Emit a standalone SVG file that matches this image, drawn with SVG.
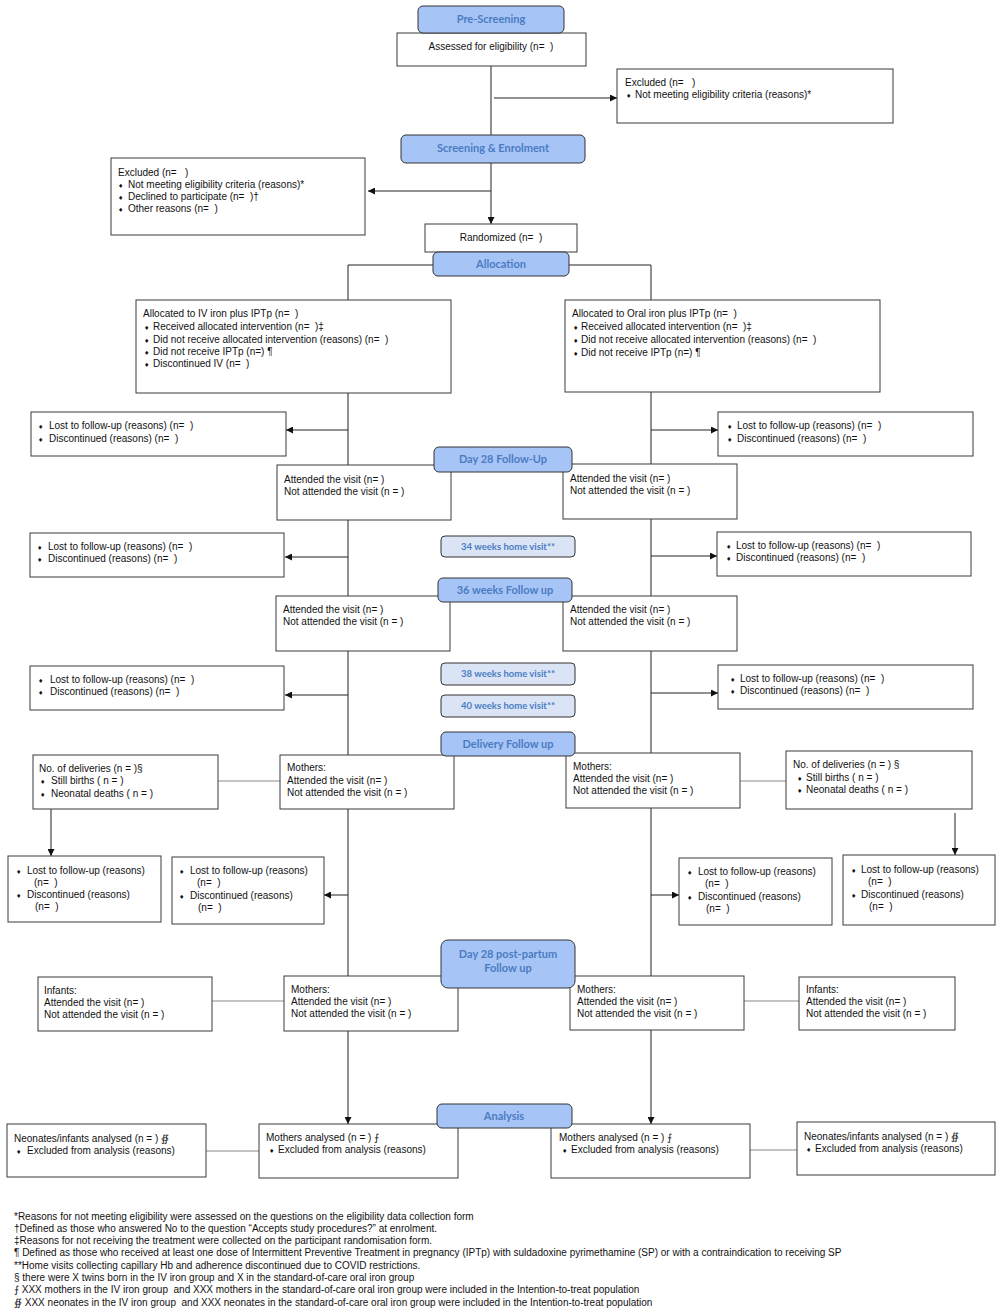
<svg xmlns="http://www.w3.org/2000/svg" width="1000" height="1313" viewBox="0 0 1000 1313">
<style>
text{white-space:pre}
.box{fill:#fff;stroke:#3a3a3a;stroke-width:1}
.hdr{fill:#a7c4f6;stroke:#333;stroke-width:1}
.hv{fill:#dae4f5;stroke:#333;stroke-width:1}
.ht{font-family:Lato,"Open Sans",sans-serif;font-weight:bold;font-size:11px;fill:#4a7cc3;text-anchor:middle}
.hvt{font-family:Lato,"Open Sans",sans-serif;font-weight:bold;font-size:9.5px;fill:#4a7cc3;text-anchor:middle}
.t{font-family:"Liberation Sans",Arial,sans-serif;font-size:10px;fill:#111}
.b{font-family:"DejaVu Sans",sans-serif;font-size:6px;fill:#111}
.fn{font-family:"Liberation Sans",Arial,sans-serif;font-size:10px;fill:#111}
.ln{fill:none;stroke:#222;stroke-width:1}
.gl{fill:none;stroke:#888;stroke-width:1}
</style>
<defs>
<marker id="ar" viewBox="0 0 8 8" refX="8" refY="4" markerWidth="7" markerHeight="7" orient="auto" markerUnits="userSpaceOnUse">
<path d="M0,0 L8,4 L0,8 z" fill="#111"/>
</marker>
</defs>
<rect width="1000" height="1313" fill="#fff"/>

<g id="connectors">
<line class="ln" x1="491" y1="66" x2="491" y2="135"/>
<line class="ln" x1="494" y1="98" x2="617" y2="98" marker-end="url(#ar)"/>
<line class="ln" x1="491" y1="163" x2="491" y2="224" marker-end="url(#ar)"/>
<line class="ln" x1="491" y1="191" x2="368" y2="191" marker-end="url(#ar)"/>
<polyline class="ln" points="433,265 348,265 348,300"/>
<polyline class="ln" points="569,265 651,265 651,300"/>
<line class="ln" x1="348" y1="393" x2="348" y2="1124" marker-end="url(#ar)"/>
<line class="ln" x1="651" y1="392" x2="651" y2="1124" marker-end="url(#ar)"/>
<line class="ln" x1="348" y1="430" x2="286" y2="430" marker-end="url(#ar)"/>
<line class="ln" x1="651" y1="430" x2="718" y2="430" marker-end="url(#ar)"/>
<line class="ln" x1="348" y1="557" x2="285" y2="557" marker-end="url(#ar)"/>
<line class="ln" x1="651" y1="556" x2="717" y2="556" marker-end="url(#ar)"/>
<line class="ln" x1="348" y1="695" x2="285" y2="695" marker-end="url(#ar)"/>
<line class="ln" x1="651" y1="693" x2="718" y2="693" marker-end="url(#ar)"/>
<line class="gl" x1="218" y1="781" x2="280" y2="781"/>
<line class="gl" x1="740" y1="781" x2="786" y2="781"/>
<line class="ln" x1="51" y1="809" x2="51" y2="856" marker-end="url(#ar)"/>
<line class="ln" x1="955" y1="813" x2="955" y2="855" marker-end="url(#ar)"/>
<line class="ln" x1="348" y1="895" x2="324" y2="895" marker-end="url(#ar)"/>
<line class="ln" x1="651" y1="895" x2="679" y2="895" marker-end="url(#ar)"/>
<line class="gl" x1="212" y1="1001" x2="284" y2="1001"/>
<line class="gl" x1="744" y1="1001" x2="799" y2="1001"/>
<line class="gl" x1="206" y1="1151" x2="259" y2="1151"/>
<line class="gl" x1="750" y1="1150" x2="797" y2="1150"/>
</g>

<g id="assessed"><rect class="box" x="397" y="33" width="189" height="33"/>
<text class="t" x="491" y="50" text-anchor="middle">Assessed for eligibility (n=  )</text></g>
<g id="pre-screening"><rect class="hdr" x="418" y="6" width="146" height="27" rx="5"/>
<text class="ht" x="491" y="23">Pre-Screening</text></g>

<g id="excluded-pre"><rect class="box" x="617" y="69" width="276" height="54"/>
<text class="t" x="625" y="86">Excluded (n=   )</text>
<text class="b" x="626" y="98">♦</text><text class="t" x="635" y="98">Not meeting eligibility criteria (reasons)*</text></g>

<g id="screening"><rect class="hdr" x="401" y="135" width="184" height="28" rx="5"/>
<text class="ht" x="493" y="152">Screening &amp; Enrolment</text></g>

<g id="excluded-screen"><rect class="box" x="111" y="158" width="254" height="77"/>
<text class="t" x="118" y="176">Excluded (n=   )</text>
<text class="b" x="118" y="188">♦</text><text class="t" x="128" y="188">Not meeting eligibility criteria (reasons)*</text>
<text class="b" x="118" y="200">♦</text><text class="t" x="128" y="200">Declined to participate (n=  )†</text>
<text class="b" x="118" y="212">♦</text><text class="t" x="128" y="212">Other reasons (n=  )</text></g>

<g id="randomized"><rect class="box" x="425" y="224" width="152" height="28"/>
<text class="t" x="501" y="241" text-anchor="middle">Randomized (n=  )</text></g>
<g id="allocation"><rect class="hdr" x="433" y="252" width="136" height="24" rx="5"/>
<text class="ht" x="501" y="268">Allocation</text></g>

<g id="alloc-iv"><rect class="box" x="136" y="300" width="315" height="93"/>
<text class="t" x="143" y="317">Allocated to IV iron plus IPTp (n=  )</text>
<text class="b" x="144" y="330">♦</text><text class="t" x="153" y="330">Received allocated intervention (n=  )‡</text>
<text class="b" x="144" y="343">♦</text><text class="t" x="153" y="343">Did not receive allocated intervention (reasons) (n=  )</text>
<text class="b" x="144" y="355">♦</text><text class="t" x="153" y="355">Did not receive IPTp (n=) ¶</text>
<text class="b" x="144" y="367">♦</text><text class="t" x="153" y="367">Discontinued IV (n=  )</text></g>

<g id="alloc-oral"><rect class="box" x="565" y="300" width="315" height="92"/>
<text class="t" x="572" y="317">Allocated to Oral iron plus IPTp (n=  )</text>
<text class="b" x="573" y="330">♦</text><text class="t" x="581" y="330">Received allocated intervention (n=  )‡</text>
<text class="b" x="573" y="343">♦</text><text class="t" x="581" y="343">Did not receive allocated intervention (reasons) (n=  )</text>
<text class="b" x="573" y="356">♦</text><text class="t" x="581" y="356">Did not receive IPTp (n=) ¶</text></g>

<g id="lost-l1"><rect class="box" x="31" y="412" width="255" height="44"/>
<text class="b" x="38" y="429">♦</text><text class="t" x="49" y="429">Lost to follow-up (reasons) (n=  )</text>
<text class="b" x="38" y="442">♦</text><text class="t" x="49" y="442">Discontinued (reasons) (n=  )</text></g>
<g id="lost-r1"><rect class="box" x="718" y="412" width="255" height="44"/>
<text class="b" x="727" y="429">♦</text><text class="t" x="737" y="429">Lost to follow-up (reasons) (n=  )</text>
<text class="b" x="727" y="442">♦</text><text class="t" x="737" y="442">Discontinued (reasons) (n=  )</text></g>

<g id="att-l1"><rect class="box" x="277" y="465" width="174" height="55"/>
<text class="t" x="284" y="483">Attended the visit (n= )</text>
<text class="t" x="284" y="495">Not attended the visit (n = )</text></g>
<g id="att-r1"><rect class="box" x="563" y="464" width="174" height="55"/>
<text class="t" x="570" y="482">Attended the visit (n= )</text>
<text class="t" x="570" y="494">Not attended the visit (n = )</text></g>
<g id="day28"><rect class="hdr" x="434" y="447" width="138" height="25" rx="5"/>
<text class="ht" x="503" y="463">Day 28 Follow-Up</text></g>

<g id="lost-l2"><rect class="box" x="30" y="533" width="254" height="44"/>
<text class="b" x="37" y="550">♦</text><text class="t" x="48" y="550">Lost to follow-up (reasons) (n=  )</text>
<text class="b" x="37" y="562">♦</text><text class="t" x="48" y="562">Discontinued (reasons) (n=  )</text></g>
<g id="home34"><rect class="hv" x="441" y="536" width="134" height="21" rx="4"/>
<text class="hvt" x="508" y="550">34 weeks home visit**</text></g>
<g id="lost-r2"><rect class="box" x="717" y="532" width="254" height="44"/>
<text class="b" x="726" y="549">♦</text><text class="t" x="736" y="549">Lost to follow-up (reasons) (n=  )</text>
<text class="b" x="726" y="561">♦</text><text class="t" x="736" y="561">Discontinued (reasons) (n=  )</text></g>

<g id="att-l2"><rect class="box" x="276" y="596" width="174" height="55"/>
<text class="t" x="283" y="613">Attended the visit (n= )</text>
<text class="t" x="283" y="625">Not attended the visit (n = )</text></g>
<g id="att-r2"><rect class="box" x="563" y="596" width="174" height="55"/>
<text class="t" x="570" y="613">Attended the visit (n= )</text>
<text class="t" x="570" y="625">Not attended the visit (n = )</text></g>
<g id="wk36"><rect class="hdr" x="438" y="578" width="134" height="24" rx="5"/>
<text class="ht" x="505" y="594">36 weeks Follow up</text></g>

<g id="lost-l3"><rect class="box" x="30" y="666" width="254" height="44"/>
<text class="b" x="38" y="683">♦</text><text class="t" x="50" y="683">Lost to follow-up (reasons) (n=  )</text>
<text class="b" x="38" y="695">♦</text><text class="t" x="50" y="695">Discontinued (reasons) (n=  )</text></g>
<g id="home38"><rect class="hv" x="441" y="663" width="134" height="22" rx="4"/>
<text class="hvt" x="508" y="677">38 weeks home visit**</text></g>
<g id="home40"><rect class="hv" x="441" y="695" width="134" height="22" rx="4"/>
<text class="hvt" x="508" y="709">40 weeks home visit**</text></g>
<g id="lost-r3"><rect class="box" x="718" y="665" width="255" height="44"/>
<text class="b" x="730" y="682">♦</text><text class="t" x="740" y="682">Lost to follow-up (reasons) (n=  )</text>
<text class="b" x="730" y="694">♦</text><text class="t" x="740" y="694">Discontinued (reasons) (n=  )</text></g>

<g id="deliv-l"><rect class="box" x="33" y="755" width="185" height="54"/>
<text class="t" x="39" y="772">No. of deliveries (n = )§</text>
<text class="b" x="40" y="784">♦</text><text class="t" x="51" y="784">Still births ( n = )</text>
<text class="b" x="40" y="797">♦</text><text class="t" x="51" y="797">Neonatal deaths ( n = )</text></g>
<g id="moth-l1"><rect class="box" x="280" y="755" width="174" height="54"/>
<text class="t" x="287" y="771">Mothers:</text>
<text class="t" x="287" y="784">Attended the visit (n= )</text>
<text class="t" x="287" y="796">Not attended the visit (n = )</text></g>
<g id="moth-r1"><rect class="box" x="566" y="753" width="174" height="55"/>
<text class="t" x="573" y="770">Mothers:</text>
<text class="t" x="573" y="782">Attended the visit (n= )</text>
<text class="t" x="573" y="794">Not attended the visit (n = )</text></g>
<g id="deliv-r"><rect class="box" x="786" y="751" width="186" height="58"/>
<text class="t" x="793" y="768">No. of deliveries (n = ) §</text>
<text class="b" x="797" y="781">♦</text><text class="t" x="806" y="781">Still births ( n = )</text>
<text class="b" x="797" y="793">♦</text><text class="t" x="806" y="793">Neonatal deaths ( n = )</text></g>
<g id="delivery"><rect class="hdr" x="441" y="732" width="134" height="24" rx="5"/>
<text class="ht" x="508" y="748">Delivery Follow up</text></g>

<g id="lost-l4a"><rect class="box" x="8" y="856" width="153" height="66"/>
<text class="b" x="16" y="874">♦</text><text class="t" x="27" y="874">Lost to follow-up (reasons)</text>
<text class="t" x="34" y="886">(n=  )</text>
<text class="b" x="16" y="898">♦</text><text class="t" x="27" y="898">Discontinued (reasons)</text>
<text class="t" x="35" y="910">(n=  )</text></g>
<g id="lost-l4b"><rect class="box" x="172" y="857" width="152" height="67"/>
<text class="b" x="179" y="874">♦</text><text class="t" x="190" y="874">Lost to follow-up (reasons)</text>
<text class="t" x="197" y="886">(n=  )</text>
<text class="b" x="179" y="899">♦</text><text class="t" x="190" y="899">Discontinued (reasons)</text>
<text class="t" x="198" y="911">(n=  )</text></g>
<g id="lost-r4a"><rect class="box" x="679" y="858" width="153" height="67"/>
<text class="b" x="687" y="875">♦</text><text class="t" x="698" y="875">Lost to follow-up (reasons)</text>
<text class="t" x="705" y="887">(n=  )</text>
<text class="b" x="687" y="900">♦</text><text class="t" x="698" y="900">Discontinued (reasons)</text>
<text class="t" x="706" y="912">(n=  )</text></g>
<g id="lost-r4b"><rect class="box" x="843" y="855" width="152" height="70"/>
<text class="b" x="851" y="873">♦</text><text class="t" x="861" y="873">Lost to follow-up (reasons)</text>
<text class="t" x="868" y="885">(n=  )</text>
<text class="b" x="851" y="898">♦</text><text class="t" x="861" y="898">Discontinued (reasons)</text>
<text class="t" x="869" y="910">(n=  )</text></g>

<g id="inf-l"><rect class="box" x="38" y="977" width="174" height="54"/>
<text class="t" x="44" y="994">Infants:</text>
<text class="t" x="44" y="1006">Attended the visit (n= )</text>
<text class="t" x="44" y="1018">Not attended the visit (n = )</text></g>
<g id="moth-l2"><rect class="box" x="284" y="976" width="174" height="55"/>
<text class="t" x="291" y="993">Mothers:</text>
<text class="t" x="291" y="1005">Attended the visit (n= )</text>
<text class="t" x="291" y="1017">Not attended the visit (n = )</text></g>
<g id="moth-r2"><rect class="box" x="570" y="976" width="174" height="54"/>
<text class="t" x="577" y="993">Mothers:</text>
<text class="t" x="577" y="1005">Attended the visit (n= )</text>
<text class="t" x="577" y="1017">Not attended the visit (n = )</text></g>
<g id="inf-r"><rect class="box" x="799" y="977" width="156" height="53"/>
<text class="t" x="806" y="993">Infants:</text>
<text class="t" x="806" y="1005">Attended the visit (n= )</text>
<text class="t" x="806" y="1017">Not attended the visit (n = )</text></g>
<g id="day28pp"><rect class="hdr" x="441" y="940" width="134" height="48" rx="7"/>
<text class="ht" x="508" y="958">Day 28 post-partum</text>
<text class="ht" x="508" y="972">Follow up</text></g>

<g id="neo-l"><rect class="box" x="7" y="1124" width="199" height="53"/>
<text class="t" x="14" y="1142">Neonates/infants analysed (n = ) ∯</text>
<text class="b" x="16" y="1154">♦</text><text class="t" x="27" y="1154">Excluded from analysis (reasons)</text></g>
<g id="moth-an-l"><rect class="box" x="259" y="1124" width="199" height="54"/>
<text class="t" x="266" y="1141">Mothers analysed (n = ) ⨍</text>
<text class="b" x="269" y="1153">♦</text><text class="t" x="278" y="1153">Excluded from analysis (reasons)</text></g>
<g id="moth-an-r"><rect class="box" x="551" y="1124" width="199" height="54"/>
<text class="t" x="559" y="1141">Mothers analysed (n = ) ⨍</text>
<text class="b" x="562" y="1153">♦</text><text class="t" x="571" y="1153">Excluded from analysis (reasons)</text></g>
<g id="neo-r"><rect class="box" x="797" y="1122" width="198" height="53"/>
<text class="t" x="804" y="1140">Neonates/infants analysed (n = ) ∯</text>
<text class="b" x="806" y="1152">♦</text><text class="t" x="815" y="1152">Excluded from analysis (reasons)</text></g>
<g id="analysis"><rect class="hdr" x="437" y="1104" width="135" height="24" rx="5"/>
<text class="ht" x="504" y="1120">Analysis</text></g>

<g id="footnotes">
<text class="fn" x="14" y="1220">*Reasons for not meeting eligibility were assessed on the questions on the eligibility data collection form</text>
<text class="fn" x="14" y="1232">†Defined as those who answered No to the question “Accepts study procedures?” at enrolment.</text>
<text class="fn" x="14" y="1244">‡Reasons for not receiving the treatment were collected on the participant randomisation form.</text>
<text class="fn" x="14" y="1256">¶ Defined as those who received at least one dose of Intermittent Preventive Treatment in pregnancy (IPTp) with suldadoxine pyrimethamine (SP) or with a contraindication to receiving SP</text>
<text class="fn" x="14" y="1269">**Home visits collecting capillary Hb and adherence discontinued due to COVID restrictions.</text>
<text class="fn" x="14" y="1281">§ there were X twins born in the IV iron group and X in the standard-of-care oral iron group</text>
<text class="fn" x="14" y="1293">⨍ XXX mothers in the IV iron group  and XXX mothers in the standard-of-care oral iron group were included in the Intention-to-treat population</text>
<text class="fn" x="14" y="1306">∯ XXX neonates in the IV iron group  and XXX neonates in the standard-of-care oral iron group were included in the Intention-to-treat population</text>
</g>
</svg>
